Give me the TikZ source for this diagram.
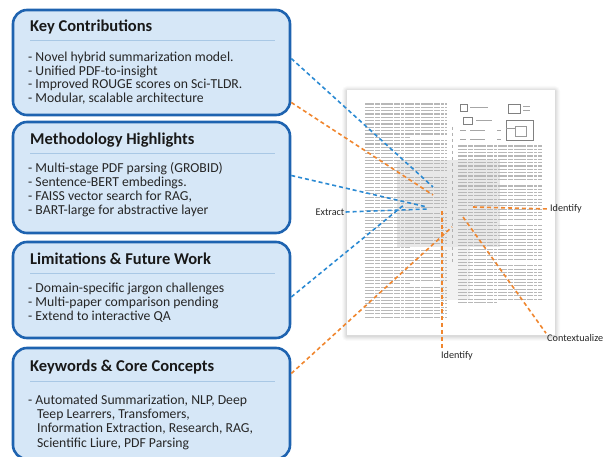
\documentclass[tikz,border=0pt]{standalone}
\usepackage{fontspec}
\setmainfont{Carlito}
\usetikzlibrary{positioning,calc}
\definecolor{boxfill}{HTML}{D6E7F7}
\definecolor{boxline}{HTML}{1E63B0}
\definecolor{ruleblue}{HTML}{A9C8E5}
\definecolor{linkblue}{HTML}{2B8AD3}
\definecolor{linkorange}{HTML}{F0862E}
\tikzset{
  panel/.style={draw=boxline, fill=boxfill, line width=2.6pt, rounded corners=14pt, minimum width=277pt, inner sep=0pt},
  heading/.style={font=\fontsize{16.5}{18}\selectfont\bfseries, text=black!90, anchor=base west, inner sep=0pt},
  items/.style={font=\fontsize{13.7}{14}\selectfont, text=black!85, anchor=base west, inner sep=0pt},
  rulesep/.style={draw=ruleblue, line width=1pt},
  bluelink/.style={draw=linkblue, line width=1.6pt, dash pattern=on 4pt off 3pt},
  orangelink/.style={draw=linkorange, line width=1.6pt, dash pattern=on 4pt off 3pt},
  tag/.style={font=\fontsize{10.2}{12}\selectfont, text=black!85, inner sep=1pt},
  textline/.style={draw=black!28, line width=1.1pt, dash pattern=on 9pt off 1pt on 5pt off 1pt on 12pt off 1pt on 6pt off 1pt on 3pt off 1pt}
}
\begin{document}
\begin{tikzpicture}[x=1pt,y=-1pt]
\useasboundingbox (0,0) rectangle (606,457);

% summary panels
\node[panel, minimum height=105pt] (kc) at (151.5,62.5) {};
\node[panel, minimum height=111pt] (mh) at (151.5,177.5) {};
\node[panel, minimum height=96pt] (lf) at (151.5,290) {};
\node[panel, minimum height=111pt] (kw) at (151.5,403.5) {};

\node[heading] (kc-title) at (30,32) {Key Contributions};
\node[heading] (mh-title) at (30,145) {Methodology Highlights};
\node[heading] (lf-title) at (30,265) {Limitations \& Future Work};
\node[heading] (kw-title) at (30,372) {Keywords \& Core Concepts};

\foreach \y in {41,154,274,382}
    \draw[rulesep] (30,\y) -- (275,\y);

\foreach \t [count=\i] in {- Novel hybrid summarization model., - Unified PDF-to-insight,
    - Improved ROUGE scores on Sci-TLDR., {- Modular, scalable architecture}}
    \node[items] (kc-\i) at (28,{62+13.4*(\i-1)}) {\t};
\foreach \t [count=\i] in {- Multi-stage PDF parsing (GROBID), - Sentence-BERT embedings.,
    {- FAISS vector search for RAG,}, - BART-large for abstractive layer}
    \node[items] (mh-\i) at (28,{173+13.8*(\i-1)}) {\t};
\foreach \t [count=\i] in {- Domain-specific jargon challenges, - Multi-paper comparison pending,
    - Extend to interactive QA}
    \node[items] (lf-\i) at (28,{293+13.8*(\i-1)}) {\t};
\node[items] (kw-1) at (28,405) {- Automated Summarization, NLP, Deep};
\foreach \t [count=\i from 2] in {{Teep Learrers, Transfomers,},
    {Information Extraction, Research, RAG,}, {Scientific Liure, PDF Parsing}}
    \node[items] (kw-\i) at (37,{405+14*(\i-1)}) {\t};

% the paper page
\foreach \s/\o in {5/0.02,4/0.025,3/0.03,2/0.035,1/0.04}
    \fill[black, opacity=\o, rounded corners=\s pt] (347-\s,91-\s) rectangle (555+\s,336+\s);
\node[fill=white, minimum width=208pt, minimum height=245pt, inner sep=0pt] (page) at (451,212.5) {};
\fill[black!9] (397,160) rectangle (500,247);
\fill[black!5] (440,247) rectangle (470,300);

% left column
\foreach \i in {0,...,64}
{
    \pgfmathsetmacro\len{mod(\i,11)==10 ? 45 : 82}
    \draw[textline] (365,{104+3.33*\i}) -- ++(\len,0);
}
% right column
\foreach \i in {0,...,47}
{
    \pgfmathsetmacro\len{mod(\i,12)==11 ? 40 : 84}
    \draw[textline] (458,{146+3.33*\i}) -- ++(\len,0);
}
% figures and equations on top of the right column
\draw[black!50, line width=.4pt] (460,104) rectangle (467,111);
\draw[black!35, line width=.7pt] (470,107.5) -- (488,107.5);
\draw[black!50, line width=.4pt] (463,117) rectangle (472,124);
\draw[black!35, line width=.7pt] (476,120.5) -- (492,120.5);
\draw[black!35, line width=.7pt] (460,130) -- (466,130) (470,130) -- (485,130) (497,130) -- (501,130);
\draw[black!35, line width=.7pt] (460,139) -- (466,139) (470,139) -- (485,139) (497,139) -- (501,139);
\draw[black!50, line width=.4pt] (508,104) rectangle (520,113);
\draw[black!35, line width=.7pt] (523,106) -- (530,106) (523,110) -- (530,110);
\draw[black!50, line width=.4pt] (506,120) rectangle (533,140);
\draw[black!40, line width=.4pt] (515,126) rectangle (526,136) (506,128) -- (515,128);
\draw[black!30, line width=.6pt, dashed] (452,127) -- (452,262);

% connectors
\coordinate (e1) at (433,187);
\coordinate (e2) at (433,195);
\coordinate (e3) at (427,207);
\coordinate (e4) at (428,209);
\coordinate (e5) at (405,204);
\coordinate (e6) at (452,227);
\coordinate (i1) at (473,207);
\coordinate (i2) at (442,211);
\coordinate (c1) at (463,217);

\node[tag] (extract) at (330,212) {Extract};
\node[tag] (identR) at (566,209) {Identify};
\node[tag] (identB) at (457,356) {Identify};
\node[tag, anchor=west] (context) at (546,338) {Contextualize};

\draw[bluelink] ([yshift=4pt]kc.east) -- (e1);
\draw[orangelink] ([yshift=-40pt]kc.east) -- (e2);
\draw[bluelink] ([yshift=2pt]mh.east) -- (e3);
\draw[bluelink] (extract.east) -- (e4);
\draw[bluelink] ([yshift=-7pt]lf.east) -- (e5);
\draw[orangelink] ([yshift=30pt]kw.east) -- (e6);
\draw[orangelink] (i1) -- (identR.west);
\draw[orangelink] (i2) -- (i2 |- identB.north);
\draw[orangelink] (c1) -- (context.north west);
\end{tikzpicture}
\end{document}
